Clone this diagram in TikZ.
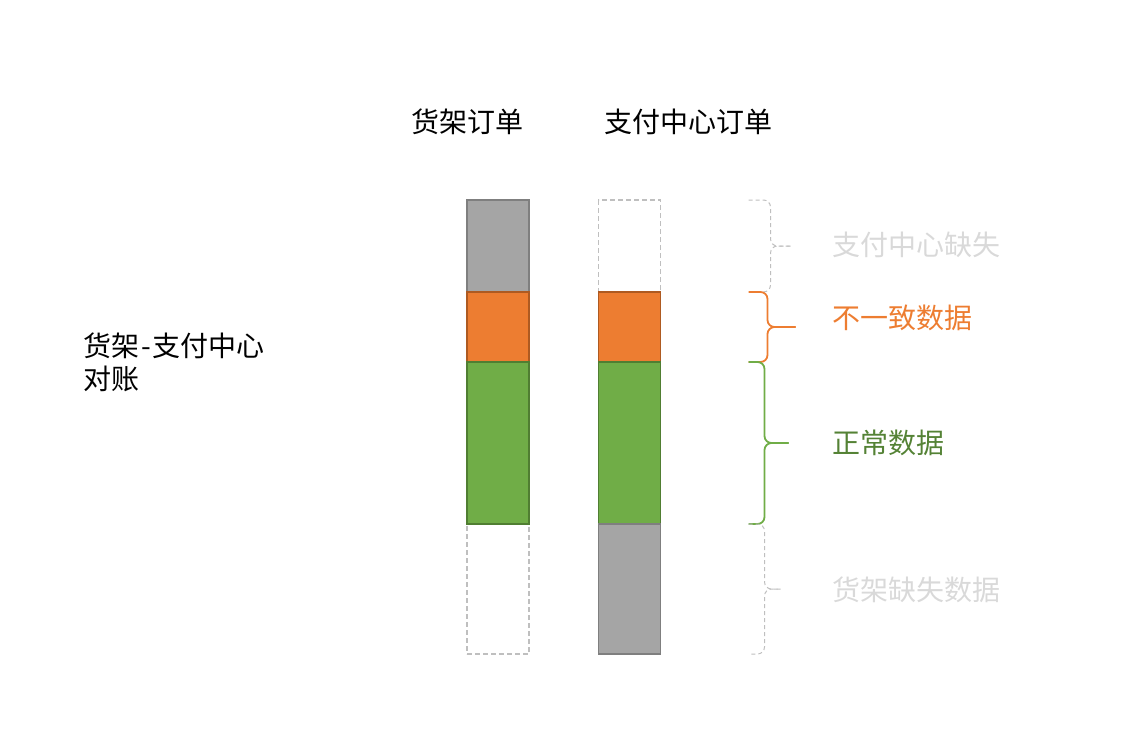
\documentclass[tikz,border=0pt]{standalone}
\usepackage{fontspec}
\setmainfont{Noto Sans CJK SC}
\usepackage{xcolor}
\usepackage{tikz}
\usetikzlibrary{positioning}
\definecolor{pptgray}{HTML}{A5A5A5}
\definecolor{pptgrayline}{HTML}{7F7F7F}
\definecolor{pptorange}{HTML}{ED7D31}
\definecolor{pptorangeline}{HTML}{AE5A21}
\definecolor{pptgreen}{HTML}{70AD47}
\definecolor{pptgreenline}{HTML}{507E32}
\definecolor{pptgreentext}{HTML}{548235}
\definecolor{pptdash}{HTML}{BFBFBF}
\definecolor{pptlight}{HTML}{D9D9D9}
\tikzstyle{bar} = [rectangle, minimum width=62pt, inner sep=0pt, outer sep=0pt, line width=1.3pt]
\tikzstyle{barGray} = [bar, fill=pptgray, draw=pptgrayline]
\tikzstyle{barOrange} = [bar, fill=pptorange, draw=pptorangeline]
\tikzstyle{barGreen} = [bar, fill=pptgreen, draw=pptgreenline]
\tikzstyle{barMissing} = [bar, draw=pptdash, dashed, dash pattern=on 5pt off 3pt]
\tikzstyle{curly} = [rounded corners=7pt, line width=1.8pt]
\tikzstyle{curlyMissing} = [rounded corners=7pt, line width=1pt, draw=pptdash, dash pattern=on 4pt off 3pt]
\tikzstyle{label} = [anchor=west, inner sep=0pt, font=\fontsize{28}{33}\selectfont]
% brace right of a bar: style, bar, vertical x, tip x
\newcommand{\barbrace}[4]{
	\draw [#1] ([xshift=88pt]#2.north east) -| ([xshift=#3]#2.east) -- ([xshift=#4]#2.east);
	\draw [#1] ([xshift=#4]#2.east) -- ([xshift=#3]#2.east) |- ([xshift=88pt]#2.south east);
}

\begin{document}
\begin{tikzpicture}[x=1pt, y=-1pt]
		\useasboundingbox (0,0) rectangle (1132,732);
		
		\node (Ltitle) [label, anchor=center] at (467,122) {货架订单};
		
		\node (Rtitle) [label, anchor=center] at (688,122) {支付中心订单};
		
		\node (Lgray) [barGray, minimum height=92pt, anchor=north] at (498,200) {};
		
		\node (Lorange) [barOrange, minimum height=70pt, below = 0pt of Lgray] {};
		
		\node (Lmiss) [barMissing, minimum height=130pt, anchor=north] at (498,524) {};
		
		\node (Lgreen) [barGreen, minimum height=162pt, below = 0pt of Lorange] {};
		
		\node (Rmiss) [barMissing, minimum height=92pt, anchor=north] at (629.5,200) {};
		
		\node (Rorange) [barOrange, minimum height=70pt, below = 0pt of Rmiss] {};
		
		\node (Rgreen) [barGreen, minimum height=162pt, below = 0pt of Rorange] {};
		
		\node (Rgray) [barGray, minimum height=130pt, below = 0pt of Rgreen] {};
		
		\barbrace{curlyMissing}{Rmiss}{110pt}{130pt}
		\barbrace{curly, draw=pptorange}{Rorange}{107pt}{135pt}
		\barbrace{curly, draw=pptgreen}{Rgreen}{104pt}{128pt}
		\barbrace{curlyMissing}{Rgray}{104pt}{120pt}
		
		\node (Missing1) [label, text=pptlight] at (832,245) {支付中心缺失};
		
		\node (Diff) [label, text=pptorange] at (832,318) {不一致数据};
		
		\node (Normal) [label, text=pptgreentext] at (832,443) {正常数据};
		
		\node (Missing2) [label, text=pptlight] at (832,590) {货架缺失数据};
		
		\node (Check) [label, align=left] at (83,362) {货架\kern2pt-\kern2pt支付中心\\对账};
		
\end{tikzpicture}
\end{document}
